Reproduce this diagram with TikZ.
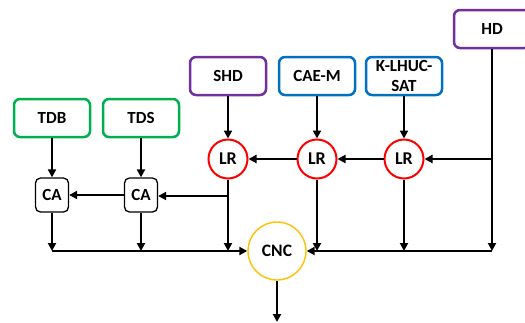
\documentclass[tikz,border=0pt]{standalone}
\usepackage{fontspec}
\setmainfont{Carlito}
\usetikzlibrary{arrows.meta,calc}
\definecolor{cgreen}{RGB}{0,176,80}
\definecolor{cpurple}{RGB}{112,48,160}
\definecolor{cblue}{RGB}{0,112,192}
\definecolor{cred}{RGB}{255,0,0}
\definecolor{cyellow}{RGB}{255,192,0}
\begin{document}
\begin{tikzpicture}[x=1pt,y=-1pt,
  box/.style={draw, line width=2.5pt, rounded corners=6pt, minimum width=76pt, minimum height=38pt, align=center, inner sep=0pt, font=\bfseries\fontsize{17}{19.5}\selectfont, fill=white},
  cabox/.style={draw, line width=1.3pt, rounded corners=5pt, minimum width=33pt, minimum height=34pt, inner sep=0pt, font=\bfseries\fontsize{17}{19}\selectfont, fill=white},
  lrnode/.style={circle, draw=cred, line width=2pt, minimum size=39pt, inner sep=0pt, font=\bfseries\fontsize{18}{19}\selectfont, fill=white},
  cncnode/.style={circle, draw=cyellow, line width=1.4pt, minimum size=58pt, inner sep=0pt, font=\bfseries\fontsize{17.5}{19}\selectfont, fill=white},
  arr/.style={line width=2.3pt, -{Triangle[length=8pt,width=8pt]}},
  ln/.style={line width=2.3pt}
]
\useasboundingbox (0,0) rectangle (525,322);
% top boxes
\node[box, draw=cgreen] (TDB) at (52,118) {TDB};
\node[box, draw=cgreen] (TDS) at (141,118) {TDS};
\node[box, draw=cpurple] (SHD) at (228,76) {SHD};
\node[box, draw=cblue] (CAEM) at (317,76) {CAE-M};
\node[box, draw=cblue] (KL) at (404,76) {K-LHUC-\\SAT};
\node[box, draw=cpurple] (HD) at (492,29) {HD};
% CA
\node[cabox] (CA1) at (52,195) {CA};
\node[cabox] (CA2) at (141,195) {CA};
% LR
\node[lrnode] (LR1) at (228,159) {LR};
\node[lrnode] (LR2) at (317,159) {LR};
\node[lrnode] (LR3) at (404,159) {LR};
% CNC
\node[cncnode] (CNC) at (277,251) {CNC};
% coordinates
\coordinate (busL) at (52,251);
\coordinate (busR) at (492,251);
\coordinate (hdj) at (492,159);
\coordinate (lrj) at (228,196);
\coordinate (out) at (277,322);
% vertical arrows
\draw[arr] (TDB) -- (CA1);
\draw[arr] (TDS) -- (CA2);
\draw[arr] (SHD) -- (LR1);
\draw[arr] (CAEM) -- (LR2);
\draw[arr] (KL) -- (LR3);
% HD
\draw[arr] (HD.south) -- (busR);
\draw[arr] (hdj) -- (LR3);
% LR chain
\draw[arr] (LR3) -- (LR2);
\draw[arr] (LR2) -- (LR1);
% LR1 down and branch
\draw[arr] (LR1) -- (LR1 |- busL);
\draw[arr] (lrj) -- (CA2.east |- lrj);
\draw[arr] (CA2) -- (CA1);
% CA down
\draw[arr] (CA1) -- (busL);
\draw[arr] (CA2) -- (CA2 |- busL);
% left bus
\draw[arr] (busL) -- (CNC.west);
% right side
\draw[arr] (LR2) -- (LR2 |- busR);
\draw[arr] (LR3) -- (LR3 |- busR);
\draw[arr] (busR) -- (CNC.east);
% output
\draw[arr] (CNC) -- (out);
\end{tikzpicture}
\end{document}
